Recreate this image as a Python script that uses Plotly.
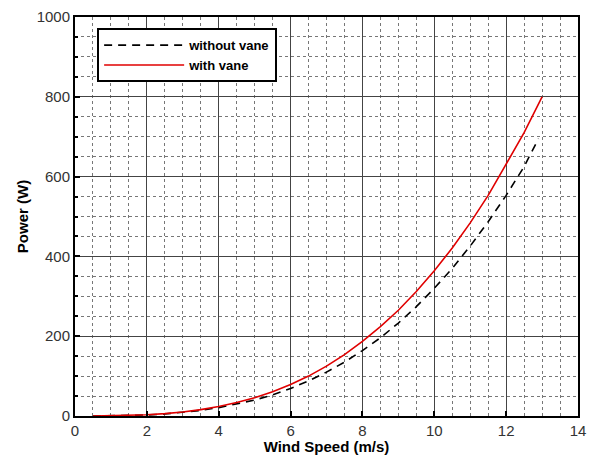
import plotly.graph_objects as go

wind_without = [0.5, 1, 1.5, 2, 2.5, 3, 3.5, 4, 4.5, 5, 5.5, 6, 6.5, 7, 7.5, 8, 8.5, 9, 9.5, 10, 10.5, 11, 11.5, 12, 12.5, 12.9]
power_without = [0, 0.3, 1, 2.5, 5, 9, 14, 21, 30, 40, 53, 69, 88, 110, 135, 164, 196, 233, 274, 320, 370, 426, 487, 553, 625, 695]

wind_with = [0.5, 1, 1.5, 2, 2.5, 3, 3.5, 4, 4.5, 5, 5.5, 6, 6.5, 7, 7.5, 8, 8.5, 9, 9.5, 10, 10.5, 11, 11.5, 12, 12.5, 13]
power_with = [0, 0.4, 1.2, 3, 6, 10, 16, 24, 34, 46, 61, 79, 100, 125, 154, 187, 224, 265, 312, 364, 421, 484, 553, 630, 710, 800]

x_ticks = [0, 2, 4, 6, 8, 10, 12, 14]
y_ticks = [0, 200, 400, 600, 800, 1000]

fig = go.Figure()
fig.add_trace(go.Scatter(x=wind_without, y=power_without, mode="lines", name="without vane",
                         line=dict(color="black", width=1.6, dash="8px,6px")))
fig.add_trace(go.Scatter(x=wind_with, y=power_with, mode="lines", name="with vane",
                         line=dict(color="#e00000", width=1.6)))

tickfont = dict(family="Liberation Sans Narrow, Arial Narrow, Liberation Sans, Arial", size=15, color="#333")
titlefont = dict(family="Liberation Sans, Arial", size=15, color="black")

# page body has an 8px default margin, so the figure is sized/margined to compensate
fig.update_layout(
    width=587, height=447,
    margin=dict(l=67, r=17, t=9, b=39, autoexpand=False),
    paper_bgcolor="white", plot_bgcolor="white",
    showlegend=True,
    legend=dict(x=0.044, y=0.972, xanchor="left", yanchor="top",
                bgcolor="white", bordercolor="black", borderwidth=2,
                font=dict(family="Liberation Sans, Arial", size=13, color="black", weight="bold"),
                itemwidth=80, tracegroupgap=0),
    xaxis=dict(range=[0, 14], tickvals=x_ticks, ticktext=[str(v) for v in x_ticks],
               automargin=False,
               showline=True, linecolor="black", linewidth=2, mirror=True,
               ticks="inside", ticklen=5, tickwidth=2, tickcolor="black",
               showgrid=True, gridcolor="#444", gridwidth=1, zeroline=False,
               tickfont=tickfont,
               title=dict(text="<b>Wind Speed (m/s)</b>", font=titlefont, standoff=0),
               minor=dict(dtick=0.5, showgrid=True, gridcolor="#777", griddash="dot", gridwidth=1)),
    yaxis=dict(range=[0, 1000], tickvals=y_ticks, ticktext=[str(v) for v in y_ticks],
               automargin=False,
               showline=True, linecolor="black", linewidth=2, mirror=True,
               ticks="inside", ticklen=5, tickwidth=2, tickcolor="black",
               showgrid=True, gridcolor="#444", gridwidth=1, zeroline=False,
               tickfont=tickfont,
               title=dict(text="<b>Power (W)</b>", font=titlefont, standoff=4),
               minor=dict(dtick=50, showgrid=True, gridcolor="#777", griddash="dot", gridwidth=1,
                          ticks="inside", ticklen=3, tickcolor="black")),
)

fig.write_html("out.html")
